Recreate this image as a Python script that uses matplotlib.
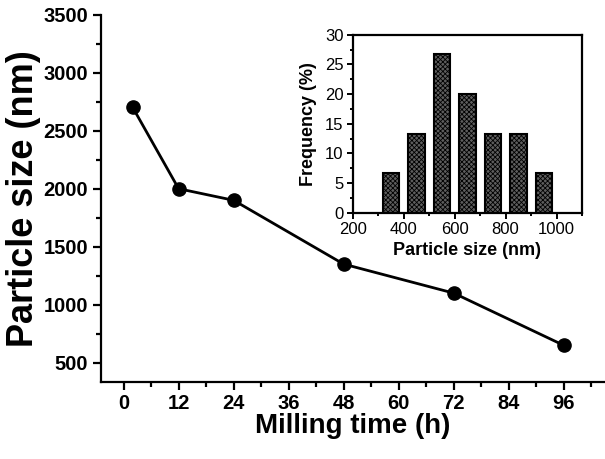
import numpy as np
import matplotlib
matplotlib.use('Agg')
import matplotlib.pyplot as plt
from matplotlib.ticker import MultipleLocator

plt.rcParams['font.family'] = ['Liberation Sans', 'DejaVu Sans']
plt.rcParams['hatch.linewidth'] = 0.6

# main curve: milling time vs particle size
milling_time = [2, 12, 24, 48, 72, 96]
particle_size = [2700, 2000, 1900, 1350, 1100, 650]

# inset histogram
bin_centers = [350, 450, 550, 650, 750, 850, 950]
frequency = [6.67, 13.33, 26.67, 20.0, 13.33, 13.33, 6.67]

fig = plt.figure(figsize=(6.05, 4.59), dpi=100)
ax = fig.add_axes([0.1664, 0.1678, 0.8336, 0.8002])

ax.plot(milling_time, particle_size, 'k-', lw=2.0, marker='o', ms=9.5, mfc='k', mec='k')
ax.set_xlim(-5, 105)
ax.set_ylim(334, 3500)
ax.xaxis.set_major_locator(MultipleLocator(12))
ax.xaxis.set_minor_locator(MultipleLocator(6))
ax.yaxis.set_minor_locator(MultipleLocator(250))
ax.set_yticks([500, 1000, 1500, 2000, 2500, 3000, 3500])
ax.spines['top'].set_visible(False)
ax.spines['right'].set_visible(False)
for s in ['left', 'bottom']:
    ax.spines[s].set_linewidth(1.6)
ax.tick_params(which='major', direction='out', length=6, width=1.6, labelsize=14.5, pad=3)
ax.tick_params(which='minor', direction='out', length=3.5, width=1.6)
for lab in ax.get_xticklabels() + ax.get_yticklabels():
    lab.set_fontweight('bold')
ax.set_xlabel('Milling time (h)', fontsize=20, fontweight='bold', labelpad=0)
ax.set_ylabel('Particle size (nm)', fontsize=26, fontweight='bold', labelpad=2)

# inset
ins = fig.add_axes([0.583, 0.5366, 0.379, 0.3878])
ins.bar(bin_centers, frequency, width=65, color='#5e5e5e', edgecolor='black', linewidth=1.5, hatch='xxxxxxx')
ins.set_xlim(200, 1100)
ins.set_ylim(0, 30)
ins.set_xticks([200, 400, 600, 800, 1000])
ins.xaxis.set_minor_locator(MultipleLocator(100))
ins.yaxis.set_major_locator(MultipleLocator(5))
ins.yaxis.set_minor_locator(MultipleLocator(2.5))
for s in ins.spines.values():
    s.set_linewidth(1.6)
ins.tick_params(which='major', direction='out', length=4, width=1.4, labelsize=12, pad=2.5)
ins.tick_params(which='minor', direction='out', length=2.5, width=1.4)
ins.tick_params(top=False, right=False, which='both')
ins.set_xlabel('Particle size (nm)', fontsize=13, fontweight='bold', labelpad=4)
ins.set_ylabel('Frequency (%)', fontsize=13, fontweight='bold', labelpad=6)

fig.savefig('out.png', dpi=100)
